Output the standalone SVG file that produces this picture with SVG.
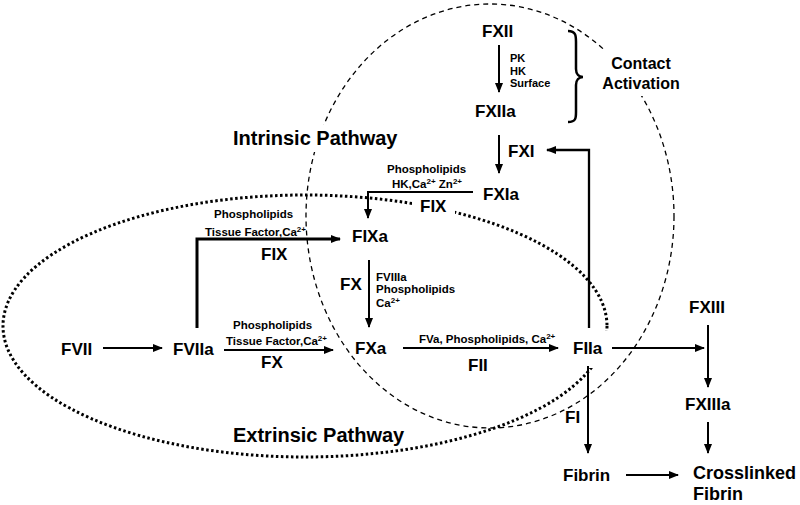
<svg xmlns="http://www.w3.org/2000/svg" width="800" height="505" viewBox="0 0 800 505">
<defs>
<marker id="ah" markerUnits="userSpaceOnUse" markerWidth="10" markerHeight="8" refX="9" refY="4" orient="auto" viewBox="0 0 10 8"><path d="M0,0 L10,4 L0,8 z" fill="#000"/></marker>
<style>
text{font-family:"Liberation Sans",Arial,Helvetica,sans-serif;font-weight:bold;fill:#000}
.n{font-size:17px}
.big{font-size:20px}
.s{font-size:11.5px}
.xs{font-size:11px}
.sup{font-size:8px}
.bg{fill:#fff;stroke:none}
.c{fill:none;stroke:#000;stroke-width:2;marker-end:url(#ah)}
.dash{fill:none;stroke:#000;stroke-width:1.3;stroke-dasharray:5 4}
.dot{fill:none;stroke:#000;stroke-width:3;stroke-dasharray:2.5 2.5}
</style>
</defs>
<rect width="800" height="505" fill="#fff"/>
<g id="regions">
<ellipse class="dash" cx="490" cy="216" rx="184" ry="212"/>
<ellipse class="dot" cx="305" cy="326" rx="302" ry="131"/>
</g>
<g id="intrinsic-label"><rect class="bg" x="230" y="125" width="176" height="27"/><text class="big" x="233" y="145">Intrinsic Pathway</text></g>
<g id="extrinsic-label"><text class="big" x="233" y="442">Extrinsic Pathway</text></g>
<g id="contact-activation"><rect class="bg" x="598" y="49" width="86" height="47"/><text x="641" y="68.5" text-anchor="middle" style="font-size:16px">Contact</text><text x="641" y="89" text-anchor="middle" style="font-size:16px">Activation</text>
<path d="M568,31 C576,31 576,36 576,42 L576,69 C576,74 579,77 583,77 C579,77 576,80 576,85 L576,112 C576,118 576,122 568,122" fill="none" stroke="#000" stroke-width="2.5"/></g>
<g id="FXII"><text class="n" x="482" y="37">FXII</text></g>
<g id="FXIIa"><text class="n" x="475" y="117">FXIIa</text></g>
<g id="FXI"><text class="n" x="508" y="157">FXI</text></g>
<g id="FXIa"><text class="n" x="483" y="200">FXIa</text></g>
<g id="FIXa"><text class="n" x="352" y="242">FIXa</text></g>
<g id="FVII"><text class="n" x="61" y="355">FVII</text></g>
<g id="FVIIa"><text class="n" x="173" y="355">FVIIa</text></g>
<g id="FXa"><text class="n" x="355" y="354">FXa</text></g>
<g id="FIIa"><rect class="bg" x="568" y="331" width="42" height="37"/><text class="n" x="573" y="354">FIIa</text></g>
<g id="FXIII"><text class="n" x="689" y="313">FXIII</text></g>
<g id="FXIIIa"><text class="n" x="685" y="410">FXIIIa</text></g>
<g id="Fibrin"><text class="n" x="563" y="481">Fibrin</text></g>
<g id="CrosslinkedFibrin"><text x="693" y="479" style="font-size:18px">Crosslinked</text><text x="693" y="500" style="font-size:18px">Fibrin</text></g>
<g id="connectors">
<path class="c" d="M499,45 V92"/>
<path class="c" d="M499,135 V173"/>
<path class="c" d="M473,192 H368 V218"/>
<path class="c" style="stroke-width:3" d="M197,328 V239 H340"/>
<path class="c" d="M369,260 V327"/>
<path class="c" d="M103,348 H162"/>
<path class="c" d="M224,350 H333"/>
<path class="c" d="M403,348 H558"/>
<path class="c" style="stroke-width:2.3" d="M589,328 V150 H547"/>
<path class="c" d="M612,348 H704"/>
<path class="c" d="M708,325 V387"/>
<path class="c" d="M708,422 V453"/>
<path class="c" d="M588,366 V453"/>
<path class="c" d="M626,475 H678"/>
</g>
<g id="labels">
<text class="xs" x="510" y="62">PK</text>
<text class="xs" x="510" y="74.5">HK</text>
<text class="xs" x="510" y="87">Surface</text>
<text class="s" x="387" y="173">Phospholipids</text>
<text class="s" x="392" y="188">HK,Ca<tspan class="sup" dy="-4">2+</tspan><tspan dy="4"> Zn</tspan><tspan class="sup" dy="-4">2+</tspan></text>
<rect class="bg" x="412" y="196" width="43" height="19"/>
<text class="n" x="420" y="212">FIX</text>
<text class="s" x="214" y="218">Phospholipids</text>
<text class="s" x="205" y="236">Tissue Factor,Ca<tspan class="sup" dy="-4">2+</tspan></text>
<text class="n" x="261" y="260">FIX</text>
<text class="n" x="340" y="290">FX</text>
<text class="s" x="376" y="281">FVIIIa</text>
<text class="s" x="376" y="293">Phospholipids</text>
<text class="s" x="376" y="307">Ca<tspan class="sup" dy="-4">2+</tspan></text>
<text class="s" x="233" y="329">Phospholipids</text>
<text class="s" x="226" y="345">Tissue Factor,Ca<tspan class="sup" dy="-4">2+</tspan></text>
<text class="n" x="261" y="368">FX</text>
<text class="s" x="419" y="343">FVa, Phospholipids, Ca<tspan class="sup" dy="-4">2+</tspan></text>
<text class="n" x="468" y="371">FII</text>
<text class="n" x="565" y="423">FI</text>
</g>
</svg>
